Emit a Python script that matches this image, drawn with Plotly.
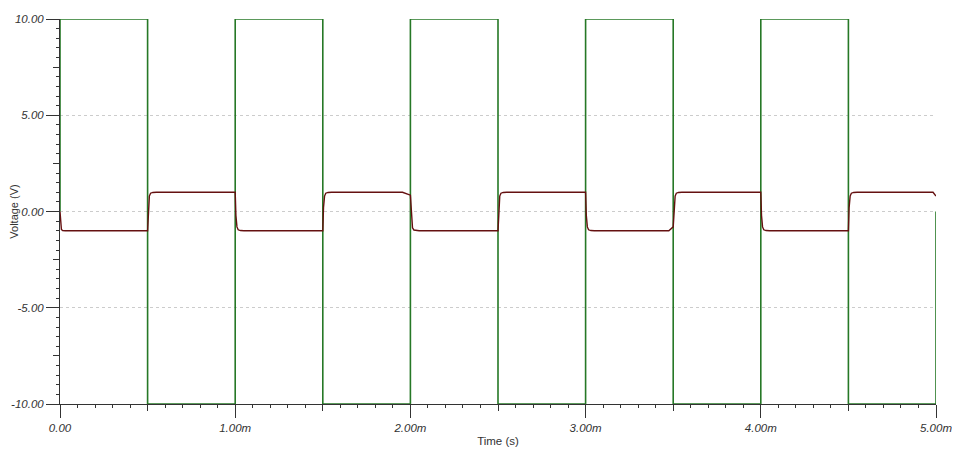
import plotly.graph_objects as go

# Input square wave (green), time in ms
src_t_ms = [0, 0, 0.5, 0.5, 1.0, 1.0, 1.5, 1.5, 2.0, 2.0, 2.5, 2.5,
            3.0, 3.0, 3.5, 3.5, 4.0, 4.0, 4.5, 4.5, 5.0, 5.0]
src_v = [0, 10, 10, -10, -10, 10, 10, -10, -10, 10, 10, -10,
         -10, 10, 10, -10, -10, 10, 10, -10, -10, 0]

# Output (dark red), time in ms
out_t_ms = [0.000, 0.003, 0.008, 0.015, 0.030,
            0.500, 0.504, 0.510, 0.517, 0.530, 0.550,
            1.000, 1.004, 1.010, 1.017, 1.030, 1.050,
            1.500, 1.504, 1.510, 1.517, 1.530, 1.550,
            1.955, 2.000, 2.006, 2.012, 2.020, 2.035, 2.050,
            2.500, 2.504, 2.510, 2.517, 2.530, 2.550,
            3.000, 3.004, 3.010, 3.017, 3.030, 3.050,
            3.475, 3.500, 3.505, 3.511, 3.518, 3.530, 3.550,
            4.000, 4.004, 4.010, 4.017, 4.030, 4.050,
            4.500, 4.504, 4.510, 4.517, 4.530, 4.550,
            4.983, 5.000]
out_v = [0.00, -0.75, -0.93, -0.99, -1.00,
         -1.00, 0.20, 0.80, 0.95, 0.99, 1.00,
         1.00, -0.20, -0.80, -0.95, -0.99, -1.00,
         -1.00, 0.20, 0.80, 0.95, 0.99, 1.00,
         1.00, 0.85, -0.30, -0.85, -0.96, -0.99, -1.00,
         -1.00, 0.20, 0.80, 0.95, 0.99, 1.00,
         1.00, -0.20, -0.80, -0.95, -0.99, -1.00,
         -1.00, -0.80, 0.10, 0.80, 0.95, 0.99, 1.00,
         1.00, -0.20, -0.80, -0.95, -0.99, -1.00,
         -1.00, 0.20, 0.80, 0.95, 0.99, 1.00,
         1.00, 0.80]

x_tick_vals_ms = [0, 1, 2, 3, 4, 5]
x_tick_text = ["0.00", "1.00m", "2.00m", "3.00m", "4.00m", "5.00m"]
x_mid_ticks_ms = [0.5, 1.5, 2.5, 3.5, 4.5]
y_tick_vals = [-10, -5, 0, 5, 10]
y_tick_text = ["-10.00", "-5.00", "0.00", "5.00", "10.00"]
y_mid_ticks = [-7.5, -2.5, 2.5, 7.5]

src_t = [t * 1e-3 for t in src_t_ms]
out_t = [t * 1e-3 for t in out_t_ms]

FONT = "Liberation Sans, Arial, sans-serif"
XR = [0, 5e-3]
YR = [-10, 10]
AX = "#333333"

fig = go.Figure()
fig.add_trace(go.Scatter(x=src_t, y=src_v, mode="lines",
                         line=dict(color="#267826", width=1.6),
                         cliponaxis=False, showlegend=False))
fig.add_trace(go.Scatter(x=out_t, y=out_v, mode="lines",
                         line=dict(color="#651010", width=1.4),
                         cliponaxis=False, showlegend=False))
# invisible trace so the overlay tick axes are drawn
fig.add_trace(go.Scatter(x=XR, y=YR, xaxis="x2", yaxis="y2", mode="markers",
                         marker=dict(size=1, opacity=0),
                         showlegend=False, hoverinfo="skip"))

fig.update_layout(
    width=952, height=445,
    margin=dict(l=52, r=24, t=11, b=49),
    paper_bgcolor="white", plot_bgcolor="white",
    font=dict(family=FONT, color=AX, size=11.5),
    xaxis=dict(
        range=XR, automargin=False, tickvals=[t * 1e-3 for t in x_tick_vals_ms],
        ticktext=["<i>%s</i>" % s for s in x_tick_text],
        ticks="outside", ticklen=13, tickcolor=AX, tickwidth=1,
        showline=True, linecolor=AX, linewidth=1,
        showgrid=True, gridcolor="#cccccc", griddash="dot", gridwidth=1,
        zeroline=False,
        minor=dict(dtick=1e-4, ticks="outside", ticklen=3, tickcolor=AX,
                   showgrid=False),
        title=dict(text="Time (s)", font=dict(size=11.5, color=AX), standoff=4),
        tickfont=dict(size=11.5, color=AX),
    ),
    yaxis=dict(
        range=YR, automargin=False, tickvals=y_tick_vals,
        ticktext=["<i>%s</i>" % s for s in y_tick_text],
        ticks="outside", ticklen=13, tickcolor=AX, tickwidth=1,
        showline=True, linecolor=AX, linewidth=1,
        showgrid=True, gridcolor="#cccccc", griddash="dot", gridwidth=1,
        zeroline=False,
        minor=dict(dtick=0.5, ticks="outside", ticklen=3, tickcolor=AX,
                   showgrid=False),
        title=dict(text="Voltage (V)", font=dict(size=11, color=AX), standoff=3),
        tickfont=dict(size=11.5, color=AX),
    ),
    xaxis2=dict(
        range=XR, automargin=False, overlaying="x", side="bottom", anchor="y2",
        tickvals=[t * 1e-3 for t in x_mid_ticks_ms], showticklabels=False,
        ticks="outside", ticklen=6, tickcolor=AX,
        showline=False, showgrid=False, zeroline=False,
    ),
    yaxis2=dict(
        range=YR, automargin=False, overlaying="y", side="left", anchor="x2",
        tickvals=y_mid_ticks, showticklabels=False,
        ticks="outside", ticklen=6, tickcolor=AX,
        showline=False, showgrid=False, zeroline=False,
    ),
)

fig.write_html("out.html")
